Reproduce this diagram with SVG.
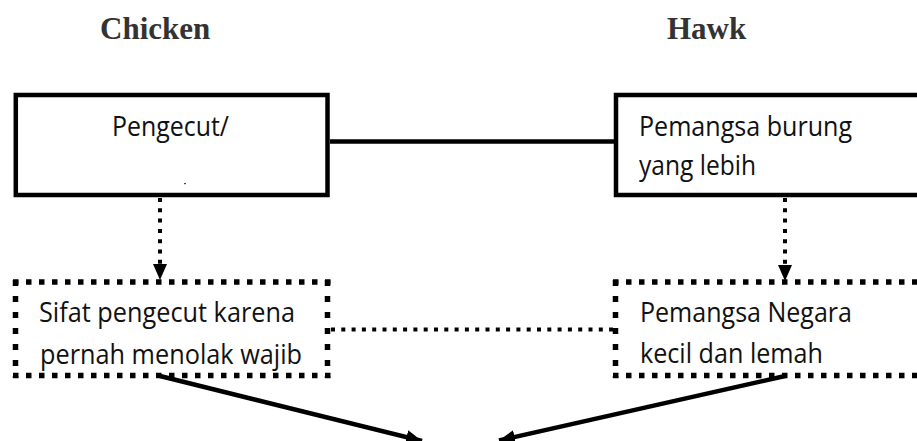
<svg xmlns="http://www.w3.org/2000/svg" width="917" height="441" viewBox="0 0 917 441">
<style>
.title{font-family:"Liberation Serif","Times New Roman",serif;font-weight:bold;font-size:31px;fill:#333}
.lbl{font-family:"Open Sans","Noto Sans",sans-serif;font-size:28px;fill:#111}
.box{fill:none;stroke:#000;stroke-width:4.5}
.dh{fill:none;stroke:#000;stroke-width:5.5;stroke-dasharray:5.5 7.5}
.dv{fill:none;stroke:#000;stroke-width:5.5;stroke-dasharray:6 10}
.solid{fill:none;stroke:#000;stroke-width:4.5}
.dot{fill:none;stroke:#000;stroke-width:4;stroke-dasharray:4 6.3}
</style>
<defs>
<marker id="head" markerUnits="userSpaceOnUse" markerWidth="16" markerHeight="14" refX="16" refY="7" orient="auto">
<path d="M0,0 L16,7 L0,14 z" fill="#000"/>
</marker>
</defs>
<rect width="917" height="441" fill="#fff"/>
<text class="title" x="100" y="39">Chicken</text>
<text class="title" x="667" y="39">Hawk</text>
<g id="connectors">
<line class="solid" x1="330" y1="141.5" x2="614" y2="141.5"/>
<line class="dot" x1="160" y1="198" x2="160" y2="280" marker-end="url(#head)"/>
<line class="dot" x1="785" y1="198" x2="785" y2="281" marker-end="url(#head)"/>
<line class="dot" x1="331" y1="329.5" x2="613" y2="329.5"/>
<line class="solid" x1="160" y1="376" x2="422" y2="441" marker-end="url(#head)"/>
<line class="solid" x1="785" y1="376" x2="499" y2="440.5" marker-end="url(#head)"/>
</g>
<g id="chicken-box">
<rect class="box" x="15.8" y="95" width="311.7" height="100" fill="#fff"/>
<text class="lbl" x="112" y="135.5" textLength="117" lengthAdjust="spacingAndGlyphs">Pengecut/</text>
<rect x="184" y="183" width="2" height="1.2" fill="#444"/>
</g>
<g id="hawk-box">
<rect class="box" x="616" y="95" width="320" height="100"/>
<text class="lbl" x="639" y="135.5" textLength="213" lengthAdjust="spacingAndGlyphs">Pemangsa burung</text>
<text class="lbl" x="639" y="175" textLength="117" lengthAdjust="spacingAndGlyphs">yang lebih</text>
</g>
<g id="chicken-trait">
<line class="dh" x1="13" y1="282" x2="331" y2="282"/>
<line class="dh" x1="13" y1="375.5" x2="331" y2="375.5"/>
<line class="dv" x1="15.5" y1="280" x2="15.5" y2="378"/>
<line class="dv" x1="327.5" y1="280" x2="327.5" y2="378"/>
<text class="lbl" x="39" y="322" textLength="256" lengthAdjust="spacingAndGlyphs">Sifat pengecut karena</text>
<text class="lbl" x="40" y="364" textLength="262" lengthAdjust="spacingAndGlyphs">pernah menolak wajib</text>
</g>
<g id="hawk-trait">
<line class="dh" x1="613" y1="282" x2="930" y2="282"/>
<line class="dh" x1="613" y1="375.5" x2="930" y2="375.5"/>
<line class="dv" x1="615.5" y1="280" x2="615.5" y2="378"/>
<text class="lbl" x="640" y="322" textLength="212" lengthAdjust="spacingAndGlyphs">Pemangsa Negara</text>
<text class="lbl" x="640" y="363" textLength="183" lengthAdjust="spacingAndGlyphs">kecil dan lemah</text>
</g>
</svg>
